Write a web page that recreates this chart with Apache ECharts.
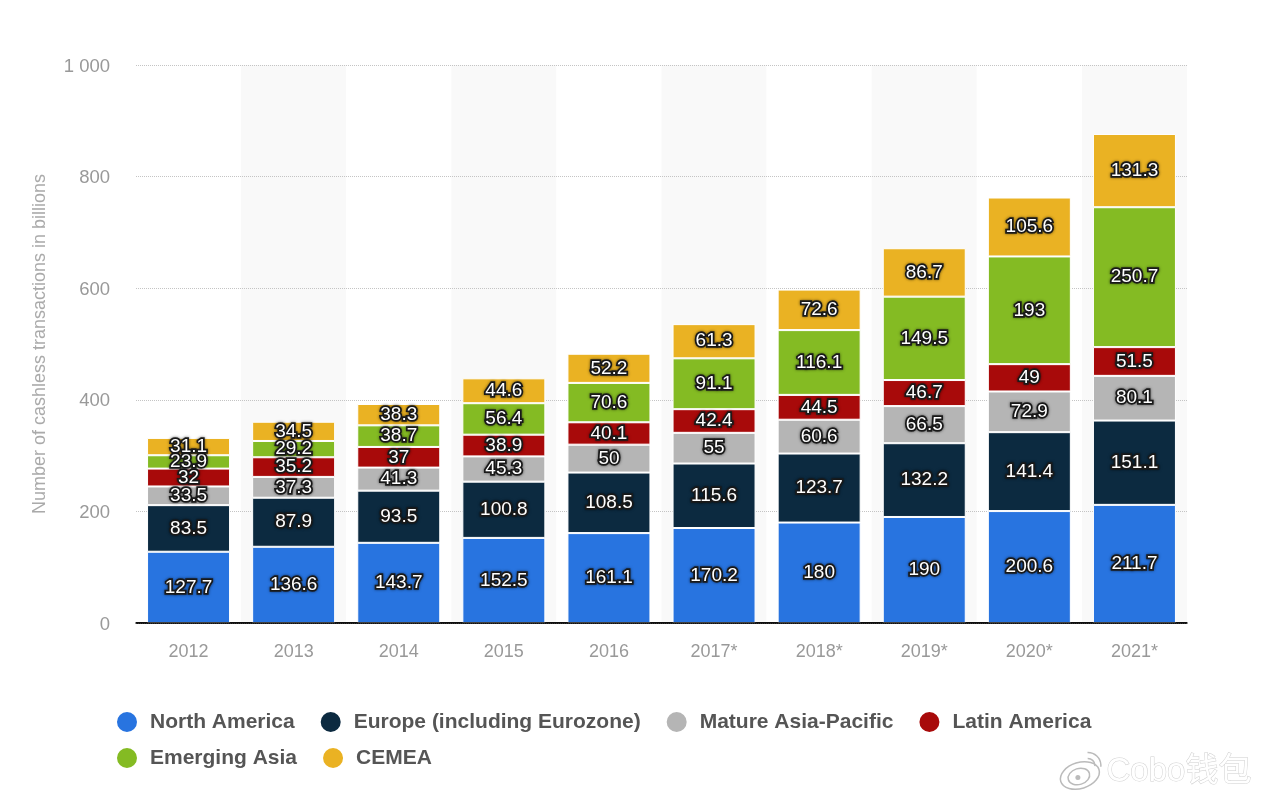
<!DOCTYPE html>
<html>

<head>
    <meta charset="UTF-8" />
    <title>Cashless transactions</title>
    <script src="https://cdn.jsdelivr.net/npm/echarts@6/dist/echarts.min.js"></script>
    <style>
        html, body { margin: 0; padding: 0; background: #fff; }
        #main { width: 1264px; height: 800px; }
    </style>
</head>

<body>
    <div id="main"></div>
    <script>
    var years = ['2012', '2013', '2014', '2015', '2016', '2017*', '2018*', '2019*', '2020*', '2021*'];
    var northAmerica = [127.7, 136.6, 143.7, 152.5, 161.1, 170.2, 180, 190, 200.6, 211.7];
    var europe = [83.5, 87.9, 93.5, 100.8, 108.5, 115.6, 123.7, 132.2, 141.4, 151.1];
    var matureAsia = [33.5, 37.3, 41.3, 45.3, 50, 55, 60.6, 66.5, 72.9, 80.1];
    var latinAmerica = [32, 35.2, 37, 38.9, 40.1, 42.4, 44.5, 46.7, 49, 51.5];
    var emergingAsia = [23.9, 29.2, 38.7, 56.4, 70.6, 91.1, 116.1, 149.5, 193, 250.7];
    var cemea = [31.1, 34.5, 38.3, 44.6, 52.2, 61.3, 72.6, 86.7, 105.6, 131.3];

    var legendRow1 = ['North America', 'Europe (including Eurozone)', 'Mature Asia-Pacific', 'Latin America'];
    var legendRow2 = ['Emerging Asia', 'CEMEA'];

    var font = '"Liberation Sans", Arial, sans-serif';

    function makeSeries(name, values, color) {
        return {
            name: name,
            type: 'bar',
            stack: 'total',
            barWidth: 83,
            data: values,
            itemStyle: { color: color, borderColor: '#fff', borderWidth: 1 },
            label: {
                show: true,
                position: 'inside',
                offset: [0, 1],
                fontFamily: font,
                fontSize: 19,
                fontWeight: 500,
                color: '#fff',
                textBorderColor: '#1c1c1c',
                textBorderWidth: 3.5,
                textShadowColor: 'rgba(0,0,0,0.55)',
                textShadowBlur: 3
            },
            labelLayout: { hideOverlap: false }
        };
    }

    function makeLegend(names, top) {
        return {
            data: names,
            left: 110,
            top: top,
            icon: 'circle',
            itemWidth: 22,
            itemHeight: 22,
            itemGap: 24,
            textStyle: { fontFamily: font, fontSize: 21, fontWeight: 'bold', color: '#555', padding: [0, 0, 0, 7] }
        };
    }

    var barSeries = [
        makeSeries('North America', northAmerica, '#2874e0'),
        makeSeries('Europe (including Eurozone)', europe, '#0c2a40'),
        makeSeries('Mature Asia-Pacific', matureAsia, '#b5b5b5'),
        makeSeries('Latin America', latinAmerica, '#a80a0a'),
        makeSeries('Emerging Asia', emergingAsia, '#84bb23'),
        makeSeries('CEMEA', cemea, '#eab223')
    ];
    // keep the baseline above the white bar borders
    barSeries[0].markLine = {
        silent: true,
        symbol: 'none',
        label: { show: false },
        lineStyle: { color: '#000', type: 'solid', width: 1.5 },
        data: [{ yAxis: 0 }]
    };

    var myChart = echarts.init(document.getElementById('main'));
    myChart.setOption({
        animation: false,
        backgroundColor: '#fff',
        grid: { left: 136, right: 77, top: 65, bottom: 177, containLabel: false },
        legend: [makeLegend(legendRow1, 705), makeLegend(legendRow2, 741)],
        xAxis: {
            type: 'category',
            data: years,
            z: 0,
            axisTick: { show: false },
            axisLine: { lineStyle: { color: '#000', width: 1.5 } },
            axisLabel: { fontFamily: font, fontSize: 18, color: '#999', margin: 20 },
            splitArea: { show: true, areaStyle: { color: ['#fff', '#f9f9f9'] } }
        },
        yAxis: {
            type: 'value',
            min: 0,
            max: 1000,
            interval: 200,
            z: 1,
            name: 'Number of cashless transactions in billions',
            nameLocation: 'middle',
            nameGap: 87,
            nameTextStyle: { fontFamily: font, fontSize: 18, color: '#aaa' },
            axisLine: { show: false },
            axisTick: { show: false },
            axisLabel: {
                margin: 26,
                formatter: function(v) {
                    return '{tick|' + (v >= 1000 ? '1 000' : v) + '}';
                },
                rich: {
                    tick: { fontFamily: font, fontSize: 18.5, color: '#999', padding: [3, 0, 0, 0] }
                }
            },
            splitLine: { lineStyle: { color: '#c4c4c4', type: 'dotted', width: 1 } }
        },
        series: barSeries,
        // watermark
        graphic: [{
            type: 'text',
            left: 1106,
            top: 755,
            z: 100,
            style: {
                text: 'Cobo钱包',
                fontFamily: '"Liberation Sans", "Noto Sans CJK SC", sans-serif',
                fontSize: 33,
                fill: '#fff',
                stroke: '#d0d0d0',
                lineWidth: 1,
                shadowColor: 'rgba(0,0,0,0.3)',
                shadowBlur: 3
            }
        }, {
            type: 'group',
            left: 1056,
            top: 750,
            z: 100,
            children: [
                { type: 'ellipse', shape: { cx: 22, cy: 24, rx: 20, ry: 13 }, rotation: 0.3, originX: 22, originY: 24, style: { fill: '#fff', stroke: '#bbb', lineWidth: 1.5 } },
                { type: 'ellipse', shape: { cx: 21, cy: 25, rx: 11, ry: 8 }, rotation: 0.3, originX: 21, originY: 25, style: { fill: '#fff', stroke: '#bbb', lineWidth: 1.5 } },
                { type: 'circle', shape: { cx: 20, cy: 26, r: 2.5 }, style: { fill: '#bbb' } },
                { type: 'arc', shape: { cx: 30, cy: 14, r: 13, startAngle: -1.6, endAngle: 0.1 }, style: { fill: 'none', stroke: '#bbb', lineWidth: 1.5 } },
                { type: 'arc', shape: { cx: 30, cy: 14, r: 7, startAngle: -1.6, endAngle: 0.1 }, style: { fill: 'none', stroke: '#bbb', lineWidth: 1.5 } }
            ]
        }]
    });
    </script>
</body>

</html>
